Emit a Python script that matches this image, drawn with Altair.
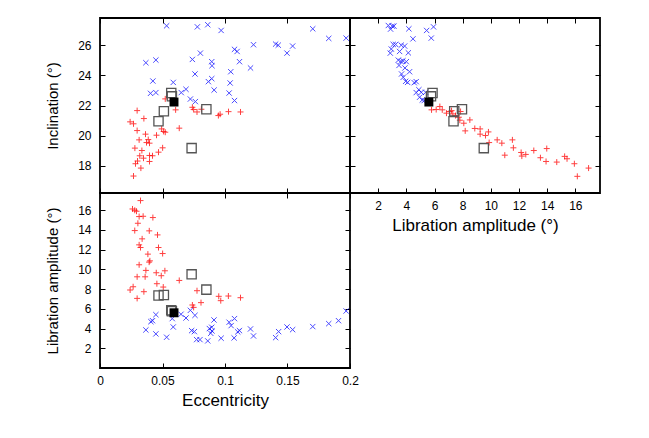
import altair as alt
import pandas as pd

# ---------------- data ----------------
# Top-left panel: eccentricity vs inclination
tl_red_e = [0.0522, 0.0605, 0.0297, 0.0351, 0.0241, 0.0268, 0.0297, 0.0364, 0.0452, 0.0493,
            0.0509, 0.0522, 0.0634, 0.0313, 0.0386, 0.0372, 0.0396, 0.0279, 0.0335, 0.0501,
            0.0468, 0.0420, 0.0396, 0.0318, 0.0348, 0.0300, 0.0284, 0.0396, 0.0327, 0.0268,
            0.0739, 0.0749, 0.0776, 0.0811, 0.0947, 0.0961, 0.1028, 0.1124]
tl_red_i = [22.44, 21.71, 21.66, 21.13, 20.91, 20.78, 20.33, 20.09, 20.02, 20.44,
            20.27, 20.22, 20.49, 19.71, 19.73, 19.53, 19.49, 19.16, 19.00, 19.18,
            18.89, 18.65, 18.67, 18.65, 18.49, 18.30, 18.12, 18.27, 17.83, 17.30,
            21.88, 21.73, 21.57, 21.75, 21.33, 21.42, 21.59, 21.57]
tl_blue_e = [0.0533, 0.0779, 0.0862, 0.0969, 0.1702, 0.1830, 0.1969, 0.1228, 0.1076, 0.1097,
             0.1405, 0.1426, 0.1541, 0.1496, 0.0803, 0.0367, 0.0447, 0.0739, 0.0894, 0.0896,
             0.1116, 0.1204, 0.1046, 0.0760, 0.0423, 0.0586, 0.0867, 0.0894, 0.1041, 0.0913,
             0.0404, 0.0447, 0.0650, 0.0688, 0.1033, 0.0723, 0.0763, 0.1076]
tl_blue_i = [27.31, 27.24, 27.38, 27.00, 27.11, 26.47, 26.49, 26.05, 25.74, 25.60,
             26.09, 26.02, 25.96, 25.49, 25.49, 24.85, 25.03, 25.07, 24.92, 24.65,
             24.92, 24.50, 24.25, 24.10, 23.63, 23.54, 23.59, 23.79, 23.50, 23.03,
             22.81, 22.86, 22.86, 23.08, 22.83, 22.43, 22.26, 22.33]

# Top-right panel: libration amplitude vs inclination
tr_red_a = [5.79, 6.12, 6.38, 6.55, 6.85, 7.07, 7.21, 7.30, 7.49, 7.73, 7.85, 7.80, 8.08,
            8.51, 8.18, 8.86, 9.24, 9.24, 9.62, 9.83, 9.88, 10.45, 10.78, 11.53, 11.60,
            10.99, 12.15, 12.20, 12.48, 13.05, 13.52, 13.97, 13.92, 14.68, 15.24, 15.41,
            15.93, 16.14, 16.94]
tr_red_i = [21.71, 21.73, 21.93, 21.71, 21.49, 21.60, 21.66, 21.44, 21.33, 21.22, 21.60,
            21.02, 20.82, 21.04, 20.31, 20.47, 20.44, 20.09, 20.00, 20.24, 19.53, 19.71,
            19.49, 19.71, 19.18, 18.69, 18.87, 18.63, 18.74, 19.00, 18.52, 19.13, 18.27,
            18.23, 18.61, 18.45, 18.12, 17.28, 17.83]
tr_blue_a = [2.72, 3.00, 2.88, 3.12, 4.18, 5.44, 5.93, 5.77, 4.47, 3.07, 3.24, 2.93, 3.64,
             3.88, 2.86, 3.52, 4.14, 3.43, 3.62, 3.76, 4.00, 3.48, 3.90, 4.23, 3.66, 3.78,
             3.95, 4.09, 4.56, 4.70, 4.89, 4.70, 5.06, 5.37, 4.94, 5.13, 5.27]
tr_blue_i = [27.33, 27.29, 27.09, 27.29, 27.11, 27.00, 27.24, 26.49, 26.44, 26.07, 26.07,
             25.76, 26.02, 25.96, 25.49, 25.60, 25.51, 25.02, 24.94, 24.98, 24.92, 24.67,
             24.50, 24.25, 24.10, 23.88, 23.61, 23.54, 23.52, 23.59, 23.05, 22.86, 22.88,
             22.88, 22.55, 22.37, 22.33]

# Bottom-left panel: eccentricity vs libration amplitude
bl_red_e = [0.0324, 0.0260, 0.0278, 0.0292, 0.0313, 0.0345, 0.0423, 0.0303, 0.0278, 0.0394,
            0.0460, 0.0337, 0.0313, 0.0324, 0.0468, 0.0501, 0.0383, 0.0399, 0.0393, 0.0313,
            0.0519, 0.0367, 0.0450, 0.0490, 0.0297, 0.0361, 0.0634, 0.0455, 0.0506, 0.0265,
            0.0241, 0.0351, 0.0297, 0.0776, 0.0808, 0.0950, 0.0966, 0.1027, 0.1124, 0.0739,
            0.0749]
bl_red_a = [16.98, 16.13, 16.00, 15.90, 15.36, 15.39, 15.26, 14.68, 13.94, 13.91,
            13.50, 13.10, 12.49, 12.22, 12.22, 11.61, 11.55, 10.87, 10.74, 10.47,
            9.86, 9.90, 9.66, 9.36, 9.25, 9.25, 8.88, 8.55, 8.21, 8.24,
            7.91, 7.74, 7.06, 7.84, 6.63, 7.27, 6.83, 7.30, 7.13, 6.39,
            6.15]
bl_blue_e = [0.0447, 0.0420, 0.0407, 0.0367, 0.0447, 0.0533, 0.0586, 0.0578, 0.0648, 0.0688,
             0.0723, 0.0760, 0.0733, 0.0755, 0.0773, 0.0800, 0.0862, 0.0875, 0.0894, 0.0896,
             0.0886, 0.0912, 0.0969, 0.1033, 0.1049, 0.1076, 0.1102, 0.1116, 0.1073, 0.1204,
             0.1228, 0.1405, 0.1429, 0.1496, 0.1541, 0.1702, 0.1830, 0.1908, 0.1969]
bl_blue_a = [5.41, 4.80, 4.70, 3.86, 3.46, 3.12, 4.16, 5.01, 5.45, 5.07,
             5.85, 5.34, 3.79, 3.69, 2.88, 2.88, 2.75, 4.00, 4.13, 3.76,
             3.52, 4.87, 3.02, 4.64, 4.30, 5.01, 3.66, 3.79, 3.05, 3.96,
             3.25, 3.08, 3.69, 4.16, 3.89, 4.20, 4.50, 4.80, 5.78]

# Open squares (same objects in all panels)
sq_e = [0.0570, 0.0575, 0.0511, 0.0468, 0.0851, 0.0733]
sq_i = [22.83, 22.61, 21.62, 20.95, 21.75, 19.16]
sq_a = [5.86, 5.75, 7.40, 7.35, 7.95, 9.50]
# Filled square
best_e = [0.0592]
best_i = [22.23]
best_a = [5.60]

ecc_ticks = [0, 0.05, 0.1, 0.15, 0.2]
inc_ticks = [18, 20, 22, 24, 26]
lib_ticks = [2, 4, 6, 8, 10, 12, 14, 16]

# ---------------- styling ----------------
FONT = "Liberation Sans"
PLUS = "M-1,0L1,0M0,-1L0,1"
CROSS = "M-1,-1L1,1M-1,1L1,-1"
W, H = 250, 175

ecc_scale = alt.Scale(domain=[0, 0.2], nice=False, zero=False)
inc_scale = alt.Scale(domain=[16.17, 27.83], nice=False, zero=False)
lib_scale = alt.Scale(domain=[0, 17.75], nice=False, zero=False)


def ax(orient, values, labels=True, title=None, fmt=None):
    kw = dict(orient=orient, offset=-5, tickSize=5, tickWidth=1, tickColor="black",
              domain=False, grid=False, values=values, labels=labels, title=title,
              labelFont=FONT, labelFontSize=12, labelColor="black",
              titleFont=FONT, titleFontWeight="normal", titleColor="black",
              labelFlush=False, labelOverlap=False)
    if orient in ("bottom", "top"):
        kw.update(labelPadding=7, titlePadding=6, titleFontSize=17)
    else:
        kw.update(labelPadding=9, titlePadding=17, titleFontSize=15)
    if fmt:
        kw["format"] = fmt
    return alt.Axis(**kw)


def panel(red_x, red_y, blue_x, blue_y, sq_x, sq_y, b_x, b_y,
          xs, ys, xbottom, yleft, xtop, yright):
    red = alt.Chart(pd.DataFrame({"x": red_x, "y": red_y})).mark_point(
        shape=PLUS, filled=False, size=36, color="#ff0000", strokeWidth=1, opacity=0.75
    ).encode(x=alt.X("x:Q", scale=xs, axis=xbottom), y=alt.Y("y:Q", scale=ys, axis=yleft))
    blue = alt.Chart(pd.DataFrame({"x": blue_x, "y": blue_y})).mark_point(
        shape=CROSS, filled=False, size=28, color="#0000ff", strokeWidth=1, opacity=0.7
    ).encode(x=alt.X("x:Q", scale=xs, axis=xtop), y=alt.Y("y:Q", scale=ys, axis=yright))
    sq = alt.Chart(pd.DataFrame({"x": sq_x, "y": sq_y})).mark_point(
        shape="square", filled=False, size=85, color="#555555", strokeWidth=1.3, opacity=1
    ).encode(x=alt.X("x:Q", scale=xs, axis=None), y=alt.Y("y:Q", scale=ys, axis=None))
    best = alt.Chart(pd.DataFrame({"x": b_x, "y": b_y})).mark_point(
        shape="square", filled=True, size=80, color="black", opacity=1
    ).encode(x=alt.X("x:Q", scale=xs, axis=None), y=alt.Y("y:Q", scale=ys, axis=None))
    return alt.layer(red, blue, sq, best).resolve_axis(
        x="independent", y="independent").properties(width=W, height=H)


tl = panel(tl_red_e, tl_red_i, tl_blue_e, tl_blue_i, sq_e, sq_i, best_e, best_i,
           ecc_scale, inc_scale,
           ax("bottom", ecc_ticks, labels=False),
           ax("left", inc_ticks, title="Inclination (°)"),
           ax("top", ecc_ticks, labels=False),
           ax("right", inc_ticks, labels=False))

tr = panel(tr_red_a, tr_red_i, tr_blue_a, tr_blue_i, sq_a, sq_i, best_a, best_i,
           lib_scale, inc_scale,
           ax("bottom", lib_ticks, title="Libration amplitude (°)"),
           ax("left", inc_ticks, labels=False),
           ax("top", lib_ticks, labels=False),
           ax("right", inc_ticks, labels=False))

bl = panel(bl_red_e, bl_red_a, bl_blue_e, bl_blue_a, sq_e, sq_a, best_e, best_a,
           ecc_scale, lib_scale,
           ax("bottom", ecc_ticks, title="Eccentricity", fmt="~g"),
           ax("left", lib_ticks, title="Libration amplitude (°)"),
           ax("top", ecc_ticks, labels=False),
           ax("right", lib_ticks, labels=False))

chart = alt.concat(
    tl, tr, bl, columns=2, spacing=0, bounds="flush"
).properties(
    padding={"left": 36, "top": 8, "right": 5, "bottom": 5},
    background="white",
).configure_view(
    stroke="black", strokeWidth=1.8
)

chart.save("out.html", embed_options={"renderer": "svg", "actions": False})
